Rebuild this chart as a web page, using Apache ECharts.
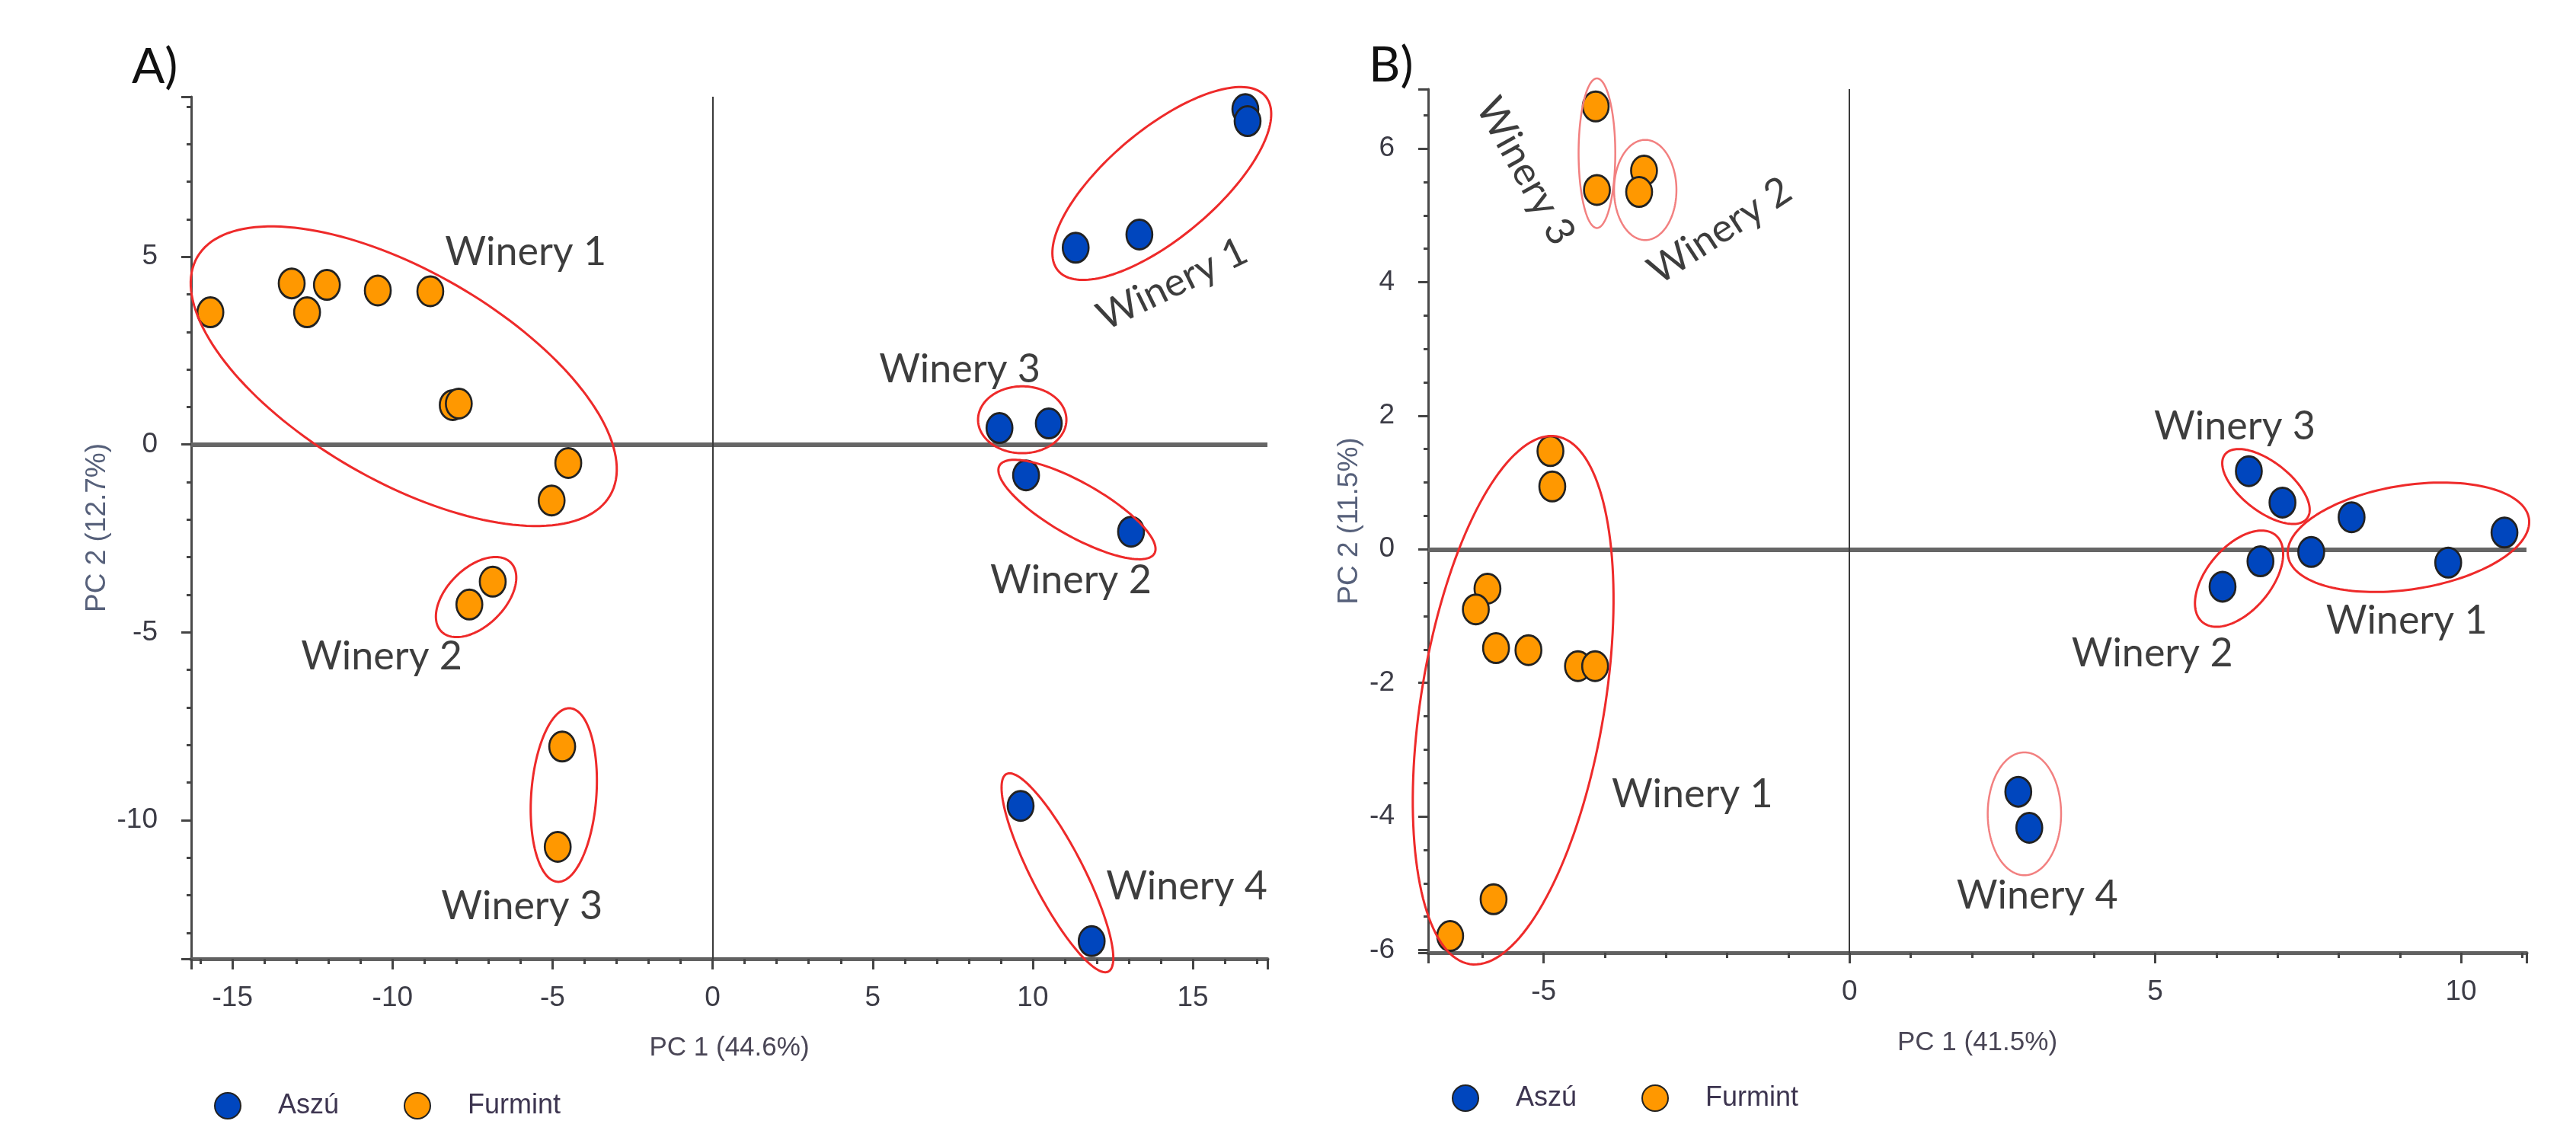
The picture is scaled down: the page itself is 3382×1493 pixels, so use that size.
<!DOCTYPE html>
<html>
<head>
<meta charset="utf-8">
<script src="https://cdn.jsdelivr.net/npm/echarts@6/dist/echarts.min.js"></script>
<style>
html,body{margin:0;padding:0;background:#ffffff;}
#chart{width:3382px;height:1493px;}
</style>
</head>
<body>
<div id="chart"></div>
<script>
// ---------------- DATA ----------------
// Panel A: PCA scores [PC1, PC2]
const aszuA = [
  [16.64, 8.93], [16.71, 8.61], [11.34, 5.24], [13.33, 5.59],
  [8.96, 0.44], [10.50, 0.56], [9.79, -0.82], [13.07, -2.32],
  [9.62, -9.62], [11.84, -13.22]
];
const furmintA = [
  [-15.69, 3.52], [-13.15, 4.29], [-12.05, 4.25], [-12.67, 3.52],
  [-10.46, 4.10], [-8.82, 4.08], [-8.12, 1.05], [-7.93, 1.09],
  [-4.51, -0.49], [-5.03, -1.49], [-6.87, -3.65], [-7.60, -4.26],
  [-4.70, -8.04], [-4.84, -10.71]
];
// Panel B: PCA scores [PC1, PC2]
const aszuB = [
  [6.53, 1.17], [7.08, 0.70], [8.21, 0.48], [10.71, 0.25],
  [7.55, -0.04], [6.72, -0.18], [6.10, -0.56], [9.79, -0.20],
  [2.76, -3.63], [2.94, -4.17]
];
const furmintB = [
  [-4.15, 6.63], [-4.13, 5.38], [-3.36, 5.67], [-3.44, 5.35],
  [-4.89, 1.47], [-4.86, 0.94], [-5.92, -0.59], [-6.11, -0.90],
  [-5.78, -1.48], [-5.25, -1.51], [-4.44, -1.75], [-4.16, -1.75],
  [-5.82, -5.24], [-6.53, -5.79]
];
// Group ellipses, in data units: [centreX, centreY, axis1X, axis1Y, axis2X, axis2Y]
const ellipsesA = [
  [-9.65, 1.82, 6.45, -3.17, -1.64, -2.42],
  [14.03, 6.95, 3.24, 2.32, 1.09, -1.10],
  [9.67, 0.66, 1.38, 0, 0, -0.89],
  [11.38, -1.73, 2.42, -1.17, -0.41, -0.62],
  [-7.39, -4.06, 1.08, 0.92, 0.64, -0.54],
  [-4.65, -9.33, 0.17, 2.31, 1.02, 0],
  [10.77, -11.40, 1.59, -2.63, -0.72, -0.31]
];
const ellipsesB = [
  [-5.50, -2.26, 0.71, 3.95, 1.48, -0.22],
  [6.81, 0.94, 0.67, -0.48, -0.25, -0.29],
  [6.37, -0.44, 0.60, 0.65, 0.40, -0.31],
  [9.14, 0.18, 1.97, 0.28, 0.13, -0.77]
];
const ellipsesBLight = [
  [-4.13, 5.93, 0, 1.12, 0.30, 0],
  [-3.34, 5.38, 0, 0.75, 0.51, 0],
  [2.86, -3.96, 0, 0.92, 0.60, 0]
];
// Group labels: [text, PC1, PC2, rotation]
const labelsA = [
  ['Winery 1', -5.84, 5.12, 0],
  ['Winery 1', 14.36, 4.27, 26],
  ['Winery 3', 7.72, 2.00, 0],
  ['Winery 2', 11.19, -3.61, 0],
  ['Winery 2', -10.34, -5.65, 0],
  ['Winery 3', -5.96, -12.29, 0],
  ['Winery 4', 14.81, -11.77, 0]
];
const labelsB = [
  ['Winery 3', -5.30, 5.66, -61],
  ['Winery 2', -2.12, 4.77, 33],
  ['Winery 3', 6.30, 1.84, 0],
  ['Winery 2', 4.95, -1.56, 0],
  ['Winery 1', 9.11, -1.07, 0],
  ['Winery 1', -2.57, -3.67, 0],
  ['Winery 4', 3.07, -5.19, 0]
];
// Axis ranges and tick steps
const rangeAX = [-16.29, 17.33];
const rangeAY = [-13.69, 9.26];
const rangeBX = [-6.89, 11.07];
const rangeBY = [-6.04, 6.89];
const stepAX = 5, stepAY = 5, stepBX = 5, stepBY = 2;
const axisTitles = ['PC 1 (44.6%)', 'PC 2 (12.7%)', 'PC 1 (41.5%)', 'PC 2 (11.5%)'];
const seriesNames = ['Aszú', 'Furmint'];
const panelTitles = ['A)', 'B)'];

// ---------------- STYLE ----------------
const BLUE = '#0046be';
const ORANGE = '#ff9800';
const MARKER = 'path://M0,50A50,50,0,1,1,100,50A50,50,0,1,1,0,50Z';
const TICK_FONT = 'Liberation Sans';
const LABEL_FONT = 'Lato';

function tickFormatter(step) {
  return function (v) {
    const k = v / step;
    return Math.abs(k - Math.round(k)) < 1e-6 ? String(Math.round(v)) : '';
  };
}

function makeXAxis(grid, range, step, minorSplit, title, gap) {
  return {
    gridIndex: grid, type: 'value', min: range[0], max: range[1],
    minInterval: step, maxInterval: step, splitNumber: 6,
    axisLine: { onZero: false, lineStyle: { color: '#616161', width: 5 } },
    axisTick: { length: 14, lineStyle: { color: '#444', width: 3 } },
    minorTick: { show: true, splitNumber: minorSplit, length: 7, lineStyle: { color: '#444', width: 3 } },
    splitLine: { show: false }, minorSplitLine: { show: false },
    axisLabel: { formatter: tickFormatter(step), margin: 33, fontSize: 37, fontFamily: TICK_FONT, color: '#3c3c46' },
    name: title, nameLocation: 'middle', nameGap: gap,
    nameTextStyle: { fontSize: 35, fontFamily: TICK_FONT, color: '#4a4656' }
  };
}
function makeYAxis(grid, range, step, minorSplit, title, gap) {
  return {
    gridIndex: grid, type: 'value', min: range[0], max: range[1],
    minInterval: step, maxInterval: step, splitNumber: 6,
    axisLine: { onZero: false, lineStyle: { color: '#4a4a4a', width: 3 } },
    axisTick: { length: 13, lineStyle: { color: '#444', width: 3 } },
    minorTick: { show: true, splitNumber: minorSplit, length: 6, lineStyle: { color: '#444', width: 3 } },
    splitLine: { show: false }, minorSplitLine: { show: false },
    axisLabel: { formatter: tickFormatter(step), margin: 44, fontSize: 37, fontFamily: TICK_FONT, color: '#3c3c46' },
    name: title, nameLocation: 'middle', nameGap: gap,
    nameTextStyle: { fontSize: 37, fontFamily: TICK_FONT, color: '#56607a' }
  };
}

function ellipseRenderer(color, width) {
  return function (params, api) {
    const cx = api.value(0), cy = api.value(1);
    const ux = api.value(2), uy = api.value(3), vx = api.value(4), vy = api.value(5);
    const pts = [];
    const N = 160;
    for (let i = 0; i < N; i++) {
      const t = i / N * Math.PI * 2;
      const c = Math.cos(t), s = Math.sin(t);
      pts.push(api.coord([cx + c * ux + s * vx, cy + c * uy + s * vy]));
    }
    return {
      type: 'polygon',
      shape: { points: pts },
      style: { fill: 'none', stroke: color, lineWidth: width }
    };
  };
}

function scatterSeries(name, data, color, gi) {
  return {
    type: 'scatter', name: name, xAxisIndex: gi, yAxisIndex: gi, data: data,
    symbol: MARKER, symbolSize: [34, 39], z: 3, clip: false,
    itemStyle: { color: color, borderColor: '#222222', borderWidth: 2.8, opacity: 1 }
  };
}
function zeroLineSeries(gi) {
  return {
    type: 'line', xAxisIndex: gi, yAxisIndex: gi, data: [], silent: true, z: 1,
    markLine: {
      silent: true, symbol: ['none', 'none'], z: 1, animation: false,
      label: { show: false },
      data: [
        { yAxis: 0, lineStyle: { color: '#666666', width: 6, type: 'solid' } },
        { xAxis: 0, lineStyle: { color: '#3a3a3a', width: 2, type: 'solid' } }
      ]
    }
  };
}
function ellipseSeries(data, gi, color, width) {
  return {
    type: 'custom', xAxisIndex: gi, yAxisIndex: gi, data: data, z: 5, silent: true, clip: false,
    dimensions: ['cx', 'cy', 'ux', 'uy', 'vx', 'vy'], encode: { x: 0, y: 1 },
    renderItem: ellipseRenderer(color, width)
  };
}
function labelSeries(labels, gi) {
  return {
    type: 'scatter', xAxisIndex: gi, yAxisIndex: gi, symbolSize: 0, z: 6, silent: true, clip: false,
    data: labels.map(function (l) {
      return { value: [l[1], l[2]], label: { show: true, formatter: l[0], rotate: l[3] } };
    }),
    label: { show: true, position: 'inside', fontFamily: LABEL_FONT, fontSize: 52, color: '#0d0d0d' }
  };
}
function legendItem(name, left, top) {
  return {
    data: [name], left: left, top: top, padding: 0, selectedMode: false,
    icon: MARKER, itemWidth: 34, itemHeight: 39,
    textStyle: { fontFamily: TICK_FONT, fontSize: 36, color: '#3d3550', padding: [0, 0, 0, 44] }
  };
}

const chart = echarts.init(document.getElementById('chart'), null, { renderer: 'canvas' });
chart.setOption({
  animation: false,
  backgroundColor: '#ffffff',
  grid: [
    { left: 251, top: 127, width: 1413, height: 1132, containLabel: false },
    { left: 1875, top: 117, width: 1442, height: 1134, containLabel: false }
  ],
  xAxis: [
    makeXAxis(0, rangeAX, stepAX, 5, axisTitles[0], 100),
    makeXAxis(1, rangeBX, stepBX, 5, axisTitles[2], 101)
  ],
  yAxis: [
    makeYAxis(0, rangeAY, stepAY, 5, axisTitles[1], 105),
    makeYAxis(1, rangeBY, stepBY, 4, axisTitles[3], 85)
  ],
  legend: [
    legendItem(seriesNames[0], 281, 1434),
    legendItem(seriesNames[1], 530, 1434),
    legendItem(seriesNames[0], 1906, 1424),
    legendItem(seriesNames[1], 2155, 1424)
  ],
  graphic: [
    { type: 'text', x: 173, y: 88, style: { text: panelTitles[0], font: '64px Lato', fill: '#111', align: 'left', verticalAlign: 'middle' } },
    { type: 'text', x: 1797, y: 86, style: { text: panelTitles[1], font: '64px Lato', fill: '#111', align: 'left', verticalAlign: 'middle' } }
  ],
  series: [
    zeroLineSeries(0),
    zeroLineSeries(1),
    scatterSeries(seriesNames[0], aszuA, BLUE, 0),
    scatterSeries(seriesNames[1], furmintA, ORANGE, 0),
    scatterSeries(seriesNames[0], aszuB, BLUE, 1),
    scatterSeries(seriesNames[1], furmintB, ORANGE, 1),
    ellipseSeries(ellipsesA, 0, '#ee2a2a', 3),
    ellipseSeries(ellipsesB, 1, '#ee2a2a', 3),
    ellipseSeries(ellipsesBLight, 1, '#f28080', 2.5),
    labelSeries(labelsA, 0),
    labelSeries(labelsB, 1)
  ]
});
</script>
</body>
</html>
